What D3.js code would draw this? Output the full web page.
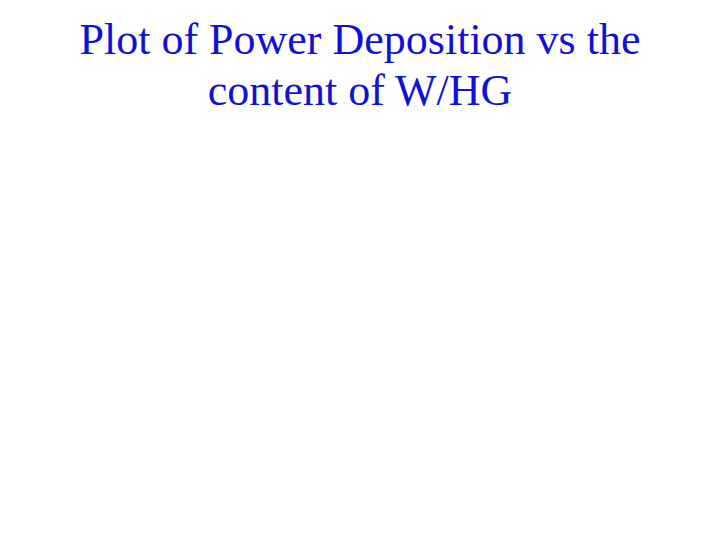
<!DOCTYPE html>
<html>
<head>
<meta charset="utf-8">
<script src="https://cdn.jsdelivr.net/npm/d3@7"></script>
<style>
  body { margin: 0; background: #fff; }
</style>
</head>
<body>
<svg width="720" height="540"></svg>
<script>
"use strict";

// Title lines (the slide has no plotted data).
var TitleLines = ["Plot of Power Deposition vs the", "content of W/HG"];

var svg = d3.select("svg");
var width = +svg.attr("width");

var TitleColor = "#1010d8";
var FontSize = 44;
var FirstBaseline = 54;
var LineStep = 51;

var y = d3.scaleLinear()
    .domain([0, 1])
    .range([FirstBaseline, FirstBaseline + LineStep]);

svg.append("rect")
    .attr("width", width)
    .attr("height", 540)
    .attr("fill", "#fff");

svg.selectAll("text.title")
    .data(TitleLines)
    .enter()
    .append("text")
        .attr("class", "title")
        .attr("x", width/2)
        .attr("y", function(d, i){ return y(i); })
        .attr("text-anchor", "middle")
        .style("font-family", "'Liberation Serif', 'Times New Roman', serif")
        .style("font-size", FontSize + "px")
        .style("fill", TitleColor)
        .text(function(d){ return d; });
</script>
</body>
</html>
